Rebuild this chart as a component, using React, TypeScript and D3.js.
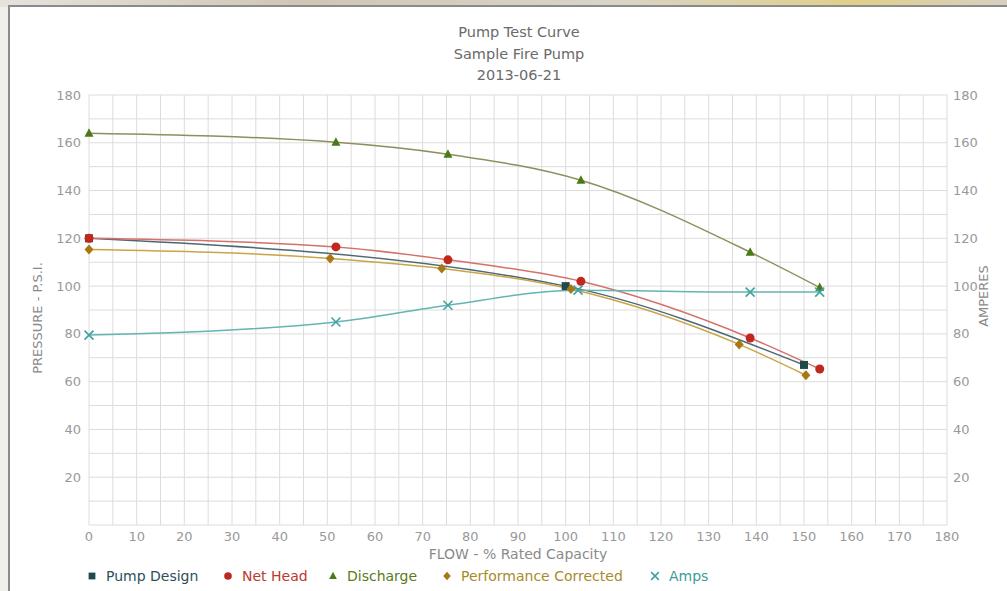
import React from "react";
import * as d3 from "d3";

const titleLines = ["Pump Test Curve", "Sample Fire Pump", "2013-06-21"];
const xTicks = [0, 10, 20, 30, 40, 50, 60, 70, 80, 90, 100, 110, 120, 130, 140, 150, 160, 170, 180];
const yTicks = [20, 40, 60, 80, 100, 120, 140, 160, 180];

const pumpDesign: [number, number][] = [[0, 120], [100, 100], [150, 67]];
const netHead: [number, number][] = [[0, 120], [51.8, 116.4], [75.3, 111], [103.2, 102], [138.7, 78.3], [153.3, 65.3]];
const discharge: [number, number][] = [[0, 164], [51.8, 160.2], [75.3, 155.2], [103.2, 144.3], [138.7, 114.2], [153.3, 99.4]];
const perfCorrected: [number, number][] = [[0, 115.3], [50.6, 111.6], [74, 107.4], [101.1, 98.8], [136.4, 75.6], [150.4, 62.7]];
const amps: [number, number][] = [[0, 79.5], [51.8, 85], [75.3, 92], [102.6, 98.3], [138.7, 97.5], [153.3, 97.5]];

const series = [
  { name: "Pump Design", data: pumpDesign, marker: "square", mColor: "#1f4a4c", lColor: "#4d6872", tColor: "#2b5058" },
  { name: "Net Head", data: netHead, marker: "circle", mColor: "#c0281e", lColor: "#d4716b", tColor: "#b8392e" },
  { name: "Discharge", data: discharge, marker: "triangle", mColor: "#4a7a18", lColor: "#8e8f5c", tColor: "#5b7a22" },
  { name: "Performance Corrected", data: perfCorrected, marker: "diamond", mColor: "#a87812", lColor: "#c9a548", tColor: "#a88a2c" },
  { name: "Amps", data: amps, marker: "x", mColor: "#3fa3a0", lColor: "#62b5b3", tColor: "#3a9c98" },
];

const W = 1007, H = 591;
const L = 89, R = 947, T = 95, B = 525;

function Marker({ type, x, y, color, s = 1 }: { type: string; x: number; y: number; color: string; s?: number }) {
  if (type === "square") return <rect x={x - 4 * s} y={y - 4 * s} width={8 * s} height={8 * s} fill={color} />;
  if (type === "circle") return <circle cx={x} cy={y} r={4.5 * s} fill={color} />;
  if (type === "triangle") return <path d={`M${x},${y - 5 * s}L${x + 4.5 * s},${y + 3.5 * s}L${x - 4.5 * s},${y + 3.5 * s}Z`} fill={color} />;
  if (type === "diamond") return <path d={`M${x},${y - 5 * s}L${x + 4.5 * s},${y}L${x},${y + 5 * s}L${x - 4.5 * s},${y}Z`} fill={color} />;
  return <path d={`M${x - 4.5 * s},${y - 4.5 * s}L${x + 4.5 * s},${y + 4.5 * s}M${x + 4.5 * s},${y - 4.5 * s}L${x - 4.5 * s},${y + 4.5 * s}`} stroke={color} strokeWidth={1.6} fill="none" />;
}

export default function App() {
  const x = d3.scaleLinear().domain([0, 180]).range([L, R]);
  const y = d3.scaleLinear().domain([0, 180]).range([B, T]);
  const line = d3.line<[number, number]>().x(d => x(d[0])).y(d => y(d[1])).curve(d3.curveMonotoneX);
  const vGrid = d3.range(0, 181, 5);
  const hGrid = d3.range(0, 181, 10);
  const font = "'DejaVu Sans', sans-serif";
  const legendPos = [92, 228, 333, 447, 655];

  return (
    <svg width={W} height={H} style={{ position: "absolute", left: 0, top: 0 }} fontFamily={font}>
      <defs>
        <linearGradient id="bgTop" x1="0" x2="1" y1="0" y2="0">
          <stop offset="0" stopColor="#e6e2dc" />
          <stop offset="0.3" stopColor="#cfc6b4" />
          <stop offset="0.6" stopColor="#d9d4c8" />
          <stop offset="0.85" stopColor="#e0cf8a" />
          <stop offset="1" stopColor="#d7d0c0" />
        </linearGradient>
      </defs>
      <rect x={0} y={0} width={W} height={H} fill="#f1efec" />
      <rect x={0} y={0} width={W} height={7} fill="url(#bgTop)" />
      <rect x={9} y={6} width={W + 10} height={H + 10} fill="#ffffff" stroke="#8a8a8a" strokeWidth={2} />

      {titleLines.map((t, i) => (
        <text key={t} x={519} y={37 + i * 21.5} textAnchor="middle" fontSize={14.5} fill="#6a6a6a">{t}</text>
      ))}

      <g stroke="#dcdcdc" strokeWidth={1}>
        {vGrid.map(v => <line key={"v" + v} x1={x(v)} x2={x(v)} y1={T} y2={B} />)}
        {hGrid.map(v => <line key={"h" + v} x1={L} x2={R} y1={y(v)} y2={y(v)} />)}
      </g>

      {yTicks.map(v => (
        <text key={"yl" + v} x={81} y={y(v) + 4.5} textAnchor="end" fontSize={13} fill="#999">{v}</text>
      ))}
      {yTicks.map(v => (
        <text key={"yr" + v} x={953} y={y(v) + 4.5} textAnchor="start" fontSize={13} fill="#999">{v}</text>
      ))}
      {xTicks.map(v => (
        <text key={"xl" + v} x={x(v)} y={541} textAnchor="middle" fontSize={13} fill="#999">{v}</text>
      ))}

      <text x={518} y={559} textAnchor="middle" fontSize={14} fill="#8a8a8a">FLOW - % Rated Capacity</text>
      <text transform={`translate(42,${318}) rotate(-90)`} textAnchor="middle" fontSize={13} fill="#8a8a8a">PRESSURE - P.S.I.</text>
      <text transform={`translate(988,${296}) rotate(-90)`} textAnchor="middle" fontSize={13} fill="#8a8a8a">AMPERES</text>

      {series.map(s => (
        <path key={s.name + "l"} d={line(s.data) || ""} fill="none" stroke={s.lColor} strokeWidth={1.5} />
      ))}
      {series.map(s => (
        <g key={s.name + "m"}>
          {s.data.map((d, i) => (
            <Marker key={i} type={s.marker} x={x(d[0])} y={y(d[1])} color={s.mColor} />
          ))}
        </g>
      ))}

      {series.map((s, i) => (
        <g key={s.name + "lg"}>
          <Marker type={s.marker} x={legendPos[i]} y={576} color={s.mColor} s={0.85} />
          <text x={legendPos[i] + 14} y={581} fontSize={14} fill={s.tColor}>{s.name}</text>
        </g>
      ))}
    </svg>
  );
}
